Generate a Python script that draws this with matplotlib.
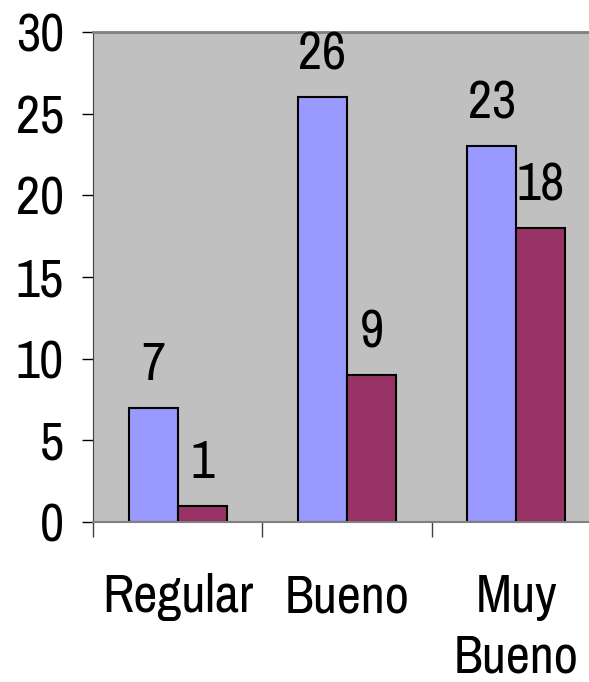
import matplotlib
matplotlib.use("Agg")
import matplotlib.pyplot as plt
import numpy as np

# datos
categorias = ["Regular", "Bueno", "Muy\nBueno"]
serie1 = [7, 26, 23]
serie2 = [1, 9, 18]
yticks = [0, 5, 10, 15, 20, 25, 30]

plt.rcParams['font.family'] = ['Archivo Narrow', 'Liberation Sans', 'DejaVu Sans']

fig = plt.figure(figsize=(5.89, 6.82), dpi=100)
ax = fig.add_axes([0.158, 0.2346, 0.862, 0.7185])
ax.set_facecolor('#C0C0C0')

x = np.arange(len(categorias))
w = 0.29
b1 = ax.bar(x - w / 2, serie1, w, color='#9999FF', edgecolor='black', linewidth=1.5)
b2 = ax.bar(x + w / 2, serie2, w, color='#993366', edgecolor='black', linewidth=1.5)

for bars, vals in ((b1, serie1), (b2, serie2)):
    for r, v in zip(bars, vals):
        ax.annotate(str(v), (r.get_x() + r.get_width() / 2, v),
                    xytext=(0, 20), textcoords='offset points',
                    ha='center', va='baseline', fontsize=38)

ax.set_xlim(-0.5, 2.5)
ax.set_ylim(0, 30)
ax.set_yticks(yticks)
ax.tick_params(axis='y', labelsize=38, length=8, width=1, pad=13)

# etiquetas centradas, marcas entre categorias
ax.set_xticks(x)
ax.set_xticklabels(categorias, fontsize=38, linespacing=1.3, va='top')
ax.tick_params(axis='x', which='major', length=0, pad=37)
ax.set_xticks([-0.5, 0.5, 1.5, 2.5], minor=True)
ax.tick_params(axis='x', which='minor', length=11, width=1, color='#404040')

ax.spines['top'].set_color('#808080')
ax.spines['top'].set_linewidth(2)
ax.spines['bottom'].set_color('#808080')
ax.spines['bottom'].set_linewidth(1.5)
ax.spines['left'].set_color('#404040')
ax.spines['right'].set_visible(False)

fig.savefig('out.png', dpi=100)
